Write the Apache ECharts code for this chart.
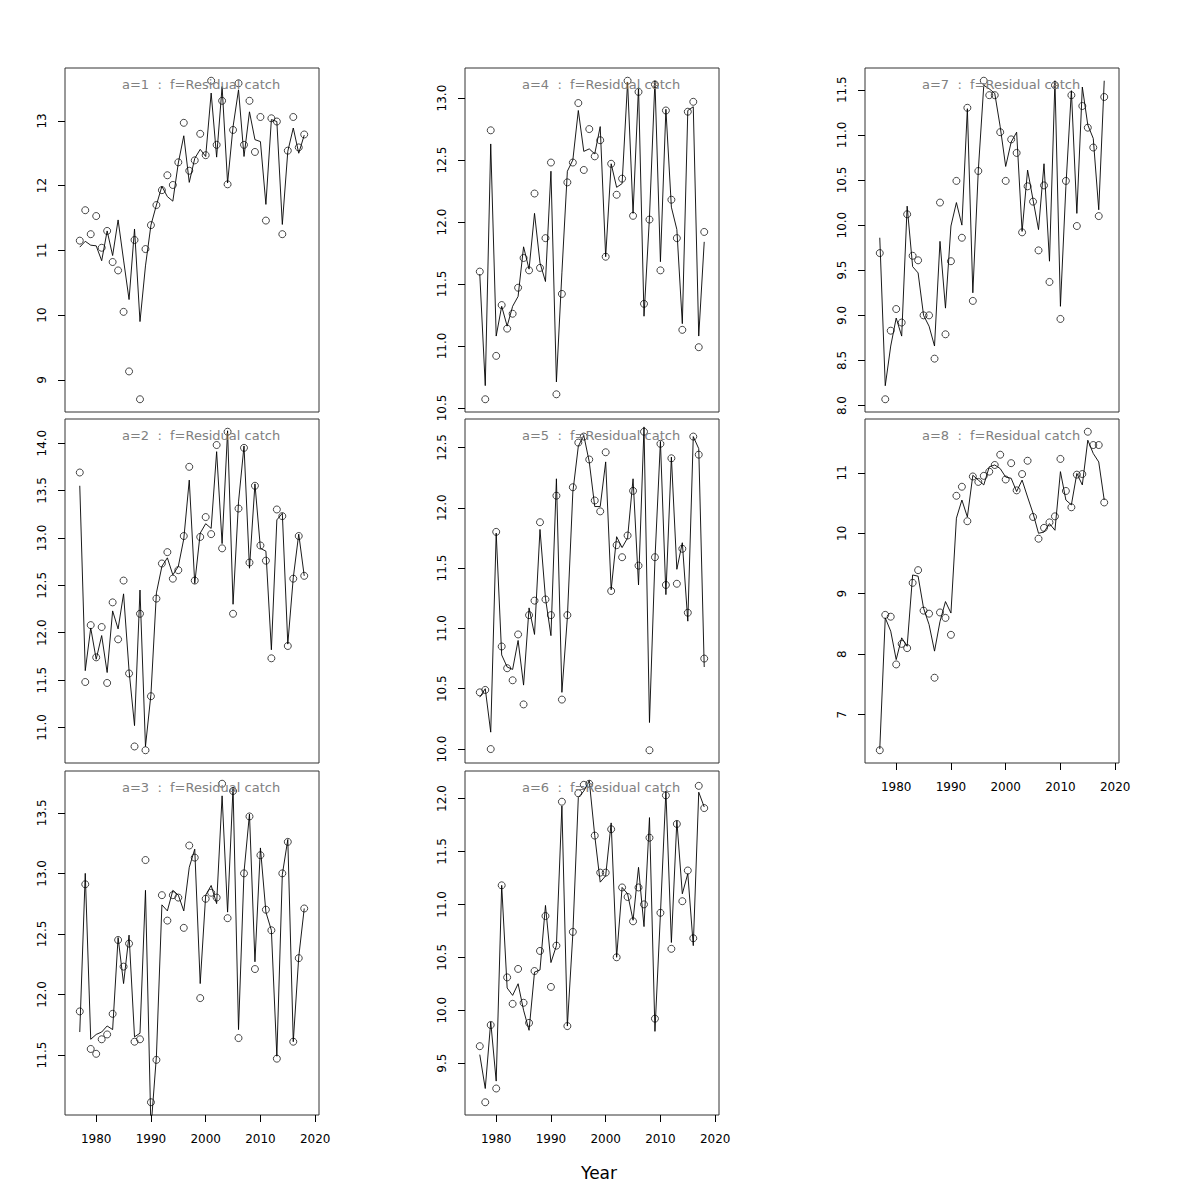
<!DOCTYPE html>
<html>
<head>
<meta charset="utf-8">
<script src="https://cdn.jsdelivr.net/npm/echarts@6/dist/echarts.min.js"></script>
<style>
html,body{margin:0;padding:0;background:#fff;}
#chart{width:1200px;height:1200px;}
</style>
</head>
<body>
<div id="chart"></div>
<script>
// ---------- DATA ----------
const years = [1977,1978,1979,1980,1981,1982,1983,1984,1985,1986,1987,1988,1989,1990,1991,1992,1993,1994,1995,1996,1997,1998,1999,2000,2001,2002,2003,2004,2005,2006,2007,2008,2009,2010,2011,2012,2013,2014,2015,2016,2017,2018];
const panelLabels = ["a=1  :  f=Residual catch","a=2  :  f=Residual catch","a=3  :  f=Residual catch","a=4  :  f=Residual catch","a=5  :  f=Residual catch","a=6  :  f=Residual catch","a=7  :  f=Residual catch","a=8  :  f=Residual catch"];
const xTicks = [1980,1990,2000,2010,2020];
const xAxisTitle = "Year";

const obs1 = [11.15,11.62,11.25,11.53,11.04,11.30,10.82,10.69,10.05,9.13, 11.16,8.70,11.02,11.39,11.70,11.93,12.16,12.01,12.36,12.97, 12.23,12.39,12.80,12.47,13.62,12.63,13.31,12.02,12.86,13.58, 12.63,13.31,12.52,13.06,11.46,13.04,12.99,11.25,12.54,13.06, 12.59,12.79];
const fit1 = [11.05,11.14,11.08,11.07,10.84,11.30,10.92,11.47,10.85,10.24, 11.33,9.90,10.76,11.39,11.70,11.99,11.83,11.76,12.35,12.77, 12.05,12.42,12.56,12.45,13.43,12.44,13.53,12.04,12.91,13.48, 12.45,13.14,12.71,12.68,11.71,13.02,12.99,11.40,12.53,12.89, 12.50,12.78];

const obs2 = [13.69,11.48,12.08,11.74,12.06,11.47,12.32,11.93,12.55,11.57, 10.80,12.20,10.76,11.33,12.36,12.73,12.85,12.57,12.66,13.02, 13.75,12.55,13.01,13.22,13.04,13.98,12.89,14.12,12.20,13.31, 13.95,12.74,13.55,12.92,12.76,11.73,13.30,13.23,11.86,12.57, 13.02,12.60];
const fit2 = [13.55,11.60,12.05,11.72,11.97,11.58,12.23,12.04,12.41,11.60, 11.02,12.45,10.80,11.35,12.42,12.70,12.79,12.61,12.70,12.99, 13.61,12.52,13.05,13.15,13.10,13.91,12.94,14.13,12.30,13.38, 13.97,12.68,13.57,12.89,12.86,11.82,13.19,13.26,11.88,12.58, 13.04,12.60];

const obs3 = [11.86,12.91,11.55,11.51,11.63,11.67,11.84,12.45,12.23,12.42, 11.61,11.63,13.11,11.11,11.46,12.82,12.61,12.82,12.80,12.55, 13.23,13.13,11.97,12.79,12.84,12.80,13.74,12.63,13.68,11.64, 13.00,13.47,12.21,13.15,12.70,12.53,11.47,13.00,13.26,11.61, 12.30,12.71];
const fit3 = [11.69,13.00,11.63,11.67,11.69,11.74,11.71,12.47,12.09,12.49, 11.65,11.68,12.86,10.89,11.49,12.74,12.69,12.86,12.82,12.69, 13.05,13.20,12.09,12.82,12.90,12.75,13.64,12.68,13.71,11.71, 13.01,13.49,12.27,13.21,12.68,12.53,11.49,12.99,13.28,11.61, 12.31,12.71];

const obs4 = [11.60,10.57,12.74,10.92,11.33,11.14,11.26,11.47,11.71,11.61, 12.23,11.63,11.87,12.48,10.61,11.42,12.32,12.48,12.96,12.42, 12.75,12.53,12.66,11.72,12.47,12.22,12.35,13.14,12.05,13.05, 11.34,12.02,13.11,11.61,12.90,12.18,11.87,11.13,12.89,12.97, 10.99,11.92];
const fit4 = [11.58,10.68,12.63,11.08,11.32,11.16,11.32,11.40,11.80,11.62, 12.07,11.67,11.52,12.41,10.71,11.59,12.41,12.50,12.90,12.57, 12.59,12.55,12.77,11.72,12.47,12.28,12.31,13.13,12.07,13.09, 11.24,12.04,13.14,11.68,12.91,12.12,11.94,11.18,12.90,12.93, 11.08,11.84];

const obs5 = [10.47,10.49,10.00,11.80,10.85,10.67,10.57,10.95,10.37,11.11, 11.23,11.88,11.24,11.11,12.10,10.41,11.11,12.17,12.54,12.59, 12.40,12.06,11.97,12.46,11.31,11.69,11.59,11.77,12.14,11.52, 12.63,9.99,11.59,12.53,11.36,12.41,11.37,11.66,11.13,12.59, 12.44,10.75];
const fit5 = [10.43,10.50,10.14,11.79,10.78,10.68,10.66,10.90,10.53,11.17, 10.95,11.82,11.25,10.94,12.24,10.47,11.09,12.13,12.51,12.60, 12.38,12.01,12.01,12.38,11.32,11.76,11.67,11.75,12.24,11.36, 12.67,10.22,11.57,12.55,11.28,12.42,11.49,11.71,11.06,12.59, 12.49,10.68];

const obs6 = [9.66,9.13,9.86,9.26,11.18,10.31,10.06,10.39,10.07,9.88, 10.37,10.56,10.89,10.22,10.61,11.97,9.85,10.74,12.05,12.13, 12.14,11.65,11.30,11.30,11.71,10.50,11.16,11.07,10.84,11.16, 11.00,11.63,9.92,10.92,12.03,10.58,11.76,11.03,11.32,10.68, 12.12,11.91];
const fit6 = [9.58,9.26,9.89,9.33,11.18,10.21,10.14,10.25,10.00,9.81, 10.36,10.38,10.99,10.45,10.61,11.93,9.85,10.72,12.01,12.07, 12.17,11.65,11.21,11.27,11.77,10.50,11.16,11.10,10.85,11.35, 10.79,11.82,9.80,10.91,12.07,10.64,11.79,11.10,11.29,10.61, 12.06,11.92];

const obs7 = [9.69,8.07,8.83,9.07,8.92,10.12,9.66,9.61,9.00,9.00, 8.52,10.25,8.79,9.60,10.49,9.86,11.30,9.16,10.60,11.60, 11.44,11.44,11.03,10.49,10.95,10.80,9.92,10.43,10.26,9.72, 10.44,9.37,11.55,8.96,10.49,11.44,9.99,11.32,11.08,10.86, 10.10,11.42];
const fit7 = [9.86,8.22,8.66,8.97,8.77,10.21,9.54,9.47,9.00,8.88, 8.66,9.82,9.08,9.99,10.25,10.00,11.29,9.25,10.61,11.55, 11.51,11.46,11.09,10.65,10.92,11.03,9.93,10.61,10.28,9.95, 10.68,9.60,11.60,9.10,10.43,11.49,10.13,11.53,11.11,10.96, 10.17,11.60];

const obs8 = [6.41,8.65,8.62,7.83,8.17,8.10,9.18,9.39,8.72,8.67, 7.61,8.69,8.60,8.32,10.62,10.77,10.20,10.94,10.85,10.95, 11.02,11.13,11.30,10.89,11.16,10.71,10.98,11.20,10.27,9.91, 10.09,10.18,10.28,11.23,10.70,10.43,10.97,10.98,11.68,11.46, 11.46,10.51];
const fit8 = [6.43,8.60,8.38,7.91,8.27,8.13,9.31,9.29,8.76,8.49, 8.05,8.54,8.87,8.68,10.25,10.55,10.27,10.96,10.88,10.80, 11.10,11.13,11.07,10.93,10.91,10.69,10.88,10.60,10.33,10.00, 10.02,10.16,10.05,11.02,10.55,10.47,10.99,10.80,11.54,11.32, 11.18,10.55];

const yTicks1 = [9,10,11,12,13];
const yTicks2 = [11,11.5,12,12.5,13,13.5,14];
const yTicks3 = [11.5,12,12.5,13,13.5];
const yTicks4 = [10.5,11,11.5,12,12.5,13];
const yTicks5 = [10,10.5,11,11.5,12,12.5];
const yTicks6 = [9.5,10,10.5,11,11.5,12];
const yTicks7 = [8,8.5,9,9.5,10,10.5,11,11.5];
const yTicks8 = [7,8,9,10,11];

// ---------- LAYOUT ----------
const obsAll = [obs1,obs2,obs3,obs4,obs5,obs6,obs7,obs8];
const fitAll = [fit1,fit2,fit3,fit4,fit5,fit6,fit7,fit8];
const yTicksAll = [yTicks1,yTicks2,yTicks3,yTicks4,yTicks5,yTicks6,yTicks7,yTicks8];
const colX = [65, 465, 865];
const rowY = [68, 419, 771];
const W = 254, H = 344;
const cells = [[0,0],[0,1],[0,2],[1,0],[1,1],[1,2],[2,0],[2,1]];
const showX = [false,false,true,false,false,true,false,true];
const FONT = "DejaVu Sans";

const grids = [], xAxes = [], yAxes = [], series = [], graphics = [];
cells.forEach((c, i) => {
  const left = colX[c[0]], top = rowY[c[1]];
  grids.push({left: left, top: top, width: W, height: H, show: true,
    borderColor: '#333', borderWidth: 1, backgroundColor: 'transparent', containLabel: false});
  // R-style 4% padding on observed range
  const lo = Math.min.apply(null, obsAll[i]), hi = Math.max.apply(null, obsAll[i]);
  const pad = (hi - lo) * 0.04;
  const ticks = yTicksAll[i];
  const dec = (ticks[1] - ticks[0]) < 1 ? 1 : 0;
  xAxes.push({type: 'value', gridIndex: i, min: 1974.3, max: 2020.7,
    axisLine: {show: false}, splitLine: {show: false},
    axisTick: {show: showX[i], customValues: xTicks, length: 7, lineStyle: {color: '#000', width: 1}},
    axisLabel: {show: showX[i], customValues: xTicks, color: '#000', fontSize: 12, fontFamily: FONT, margin: 18,
      formatter: v => String(Math.round(v))}
  });
  yAxes.push({type: 'value', gridIndex: i, min: lo - pad, max: hi + pad,
    axisLine: {show: false}, splitLine: {show: false},
    axisTick: {show: true, customValues: ticks, length: 7, lineStyle: {color: '#000', width: 1}},
    axisLabel: {show: true, customValues: ticks, rotate: 90, color: '#000', fontSize: 12, fontFamily: FONT, margin: 17,
      formatter: v => Number(v).toFixed(dec)}
  });
  series.push({type: 'line', xAxisIndex: i, yAxisIndex: i,
    data: years.map((y, k) => [y, fitAll[i][k]]),
    showSymbol: false, symbol: 'none', clip: true, silent: true,
    lineStyle: {color: '#000', width: 0.9}, z: 2});
  series.push({type: 'scatter', xAxisIndex: i, yAxisIndex: i,
    data: years.map((y, k) => [y, obsAll[i][k]]),
    symbol: 'circle', symbolSize: 7, clip: true, silent: true,
    itemStyle: {color: 'rgba(0,0,0,0)', borderColor: '#000', borderWidth: 0.9}, z: 3});
  graphics.push({type: 'text', left: left + W / 2 + 9 - 79, top: top + 10, z: 10,
    style: {text: panelLabels[i], fill: '#808080', font: '13px "' + FONT + '"'}});
});
graphics.push({type: 'text', left: 581, top: 1164,
  style: {text: xAxisTitle, fill: '#000', font: '17px "' + FONT + '"'}});

const chart = echarts.init(document.getElementById('chart'), null, {renderer: 'svg', width: 1200, height: 1200});
chart.setOption({
  animation: false,
  backgroundColor: '#fff',
  grid: grids, xAxis: xAxes, yAxis: yAxes, series: series, graphic: graphics
});
</script>
</body>
</html>
